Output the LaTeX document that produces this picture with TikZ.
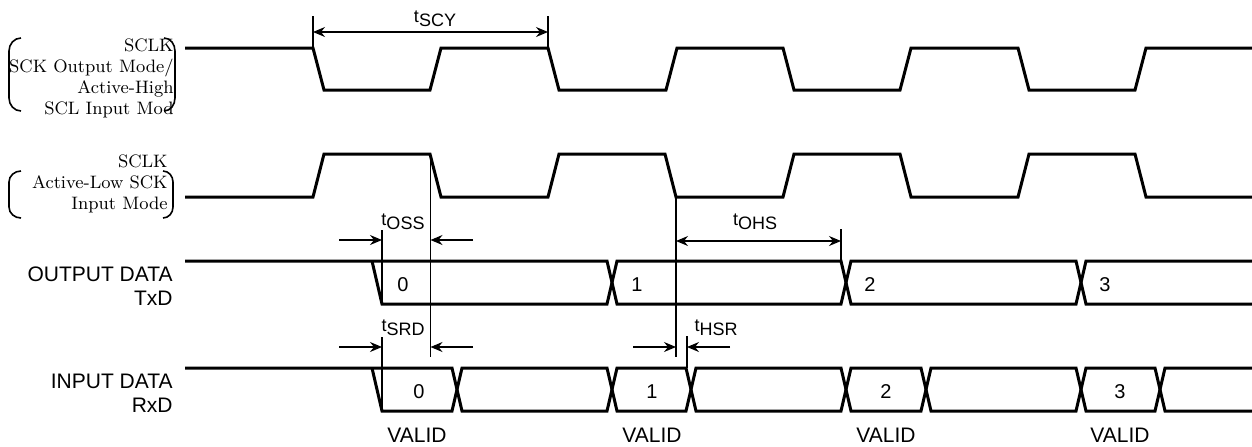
\documentclass[tikz,border=0pt]{standalone}
\usepackage{fontspec}
\setsansfont{Liberation Sans}
\usetikzlibrary{arrows.meta}
\newcommand{\tsym}[1]{t\raisebox{-2pt}{#1}}
\tikzset{
    %Define standard arrow tip
    >={Stealth[length=6pt,width=5pt,inset=2pt]},
    wave/.style={
      line width=1.5pt},
    dim/.style={
      line width=0.6pt},
    paren/.style={
      line width=0.8pt},
    sig/.style={
      align=right,
      anchor=east,
      inner sep=0pt,
      font=\sffamily\fontsize{10.5}{12}\selectfont},
    clk/.style={
      align=right,
      anchor=east,
      inner sep=0pt,
      font=\rmfamily\fontsize{9}{10.5}\selectfont},
    tlbl/.style={
      inner sep=0pt,
      font=\sffamily\fontsize{9}{10}\selectfont},
    val/.style={
      inner sep=0pt,
      font=\sffamily\fontsize{10}{12}\selectfont},
}
\begin{document}
\begin{tikzpicture}[x=0.5pt,y=-0.5pt]
    \useasboundingbox (0,0) rectangle (1252,446);
    % signal names
    \node (sclka) [clk] at (174,78.5)
          {SCLK\\SCK Output Mode/\\Active-High\\SCL Input Mod};
    \node (sclkb) [clk] at (168,184)
          {SCLK\\Active-Low SCK\\Input Mode};
    \node (txd) [sig] at (173,286)
          {OUTPUT DATA\\TxD};
    \node (rxd) [sig] at (173,393)
          {INPUT DATA\\RxD};
    \draw [paren] (21,38) to[out=180,in=90] (9,51) -- (9,98) to[out=-90,in=180] (21,111);
    \draw [paren] (164,38) to[out=0,in=90] (175,51) -- (175,98) to[out=-90,in=0] (164,111);
    \draw [paren] (21,171) to[out=180,in=90] (9,182) -- (9,207) to[out=-90,in=180] (21,218);
    \draw [paren] (163,171) to[out=0,in=90] (173,182) -- (173,207) to[out=-90,in=0] (163,218);
    % clocks
    \draw [wave] (185,48) -- (313,48) -- (324,90) -- (430,90) -- (441,48) -- (548,48)
          -- (559,90) -- (666,90) -- (677,48) -- (783,48) -- (794,90) -- (900,90)
          -- (911,48) -- (1018,48) -- (1029,90) -- (1135,90) -- (1146,48) -- (1252,48);
    \draw [wave] (185,197) -- (313,197) -- (324,154) -- (430,154) -- (441,197) -- (548,197)
          -- (559,154) -- (665,154) -- (676,197) -- (783,197) -- (794,154) -- (900,154)
          -- (911,197) -- (1018,197) -- (1029,154) -- (1135,154) -- (1146,197) -- (1252,197);
    % output data
    \draw [wave] (185,261) -- (607,261) -- (617,304) -- (841,304) -- (851,261)
          -- (1076,261) -- (1086,304) -- (1252,304);
    \draw [wave] (372,261) -- (382,304) -- (607,304) -- (617,261) -- (841,261)
          -- (851,304) -- (1076,304) -- (1086,261) -- (1252,261);
    % input data
    \draw [wave] (185,368) -- (452,368) -- (462,411) -- (607,411) -- (617,368)
          -- (686,368) -- (696,411) -- (841,411) -- (851,368) -- (921,368)
          -- (931,411) -- (1076,411) -- (1086,368) -- (1155,368) -- (1165,411) -- (1252,411);
    \draw [wave] (372,368) -- (382,411) -- (452,411) -- (462,368) -- (607,368)
          -- (617,411) -- (686,411) -- (696,368) -- (841,368) -- (851,411)
          -- (921,411) -- (931,368) -- (1076,368) -- (1086,411) -- (1155,411) -- (1165,368) -- (1252,368);
    % data values
    \node (o0) [val] at (403,285) {0};
    \node (o1) [val] at (637,285) {1};
    \node (o2) [val] at (870,285) {2};
    \node (o3) [val] at (1105,285) {3};
    \node (i0) [val] at (419,392) {0};
    \node (i1) [val] at (652,392) {1};
    \node (i2) [val] at (886,392) {2};
    \node (i3) [val] at (1120,392) {3};
    \node (v0) [val, font=\sffamily\fontsize{10.5}{12}\selectfont] at (417,435) {VALID};
    \node (v1) [val, font=\sffamily\fontsize{10.5}{12}\selectfont] at (652,435) {VALID};
    \node (v2) [val, font=\sffamily\fontsize{10.5}{12}\selectfont] at (886,435) {VALID};
    \node (v3) [val, font=\sffamily\fontsize{10.5}{12}\selectfont] at (1120,435) {VALID};
    % reference points
    \coordinate (fa) at (313,16);
    \coordinate (fb) at (548,16);
    \coordinate (ea) at (430.5,154);
    \coordinate (eb) at (676,197);
    \coordinate (da) at (382,230);
    \coordinate (db) at (841,229);
    \coordinate (ra) at (382,337);
    \coordinate (rb) at (687,336);
    % tSCY
    \draw [dim] (fa) -- (313,48);
    \draw [dim] (fb) -- (548,48);
    \draw [dim, <->] (313,32) -- (548,32);
    \node (tscy) [tlbl] at (435,19) {\tsym{SCY}};
    % edge lines
    \draw [dim] (ea) -- (430.5,357);
    \draw [dim] (eb) -- (676,357);
    % tOSS
    \draw [dim] (da) -- (382,304);
    \draw [dim, ->] (339,240) -- (da |- 0,240);
    \draw [dim, ->] (473,240) -- (ea |- 0,240);
    \node (toss) [tlbl] at (403,222) {\tsym{OSS}};
    % tSRD
    \draw [dim] (ra) -- (382,411);
    \draw [dim, ->] (339,347) -- (ra |- 0,347);
    \draw [dim, ->] (473,347) -- (ea |- 0,347);
    \node (tsrd) [tlbl] at (403,328) {\tsym{SRD}};
    % tOHS
    \draw [dim] (db) -- (841,261);
    \draw [dim, <->] (eb |- 0,241) -- (db |- 0,241);
    \node (tohs) [tlbl] at (755,222) {\tsym{OHS}};
    % tHSR
    \draw [dim] (rb) -- (687,368);
    \draw [dim, ->] (633,347) -- (eb |- 0,347);
    \draw [dim, ->] (730,347) -- (rb |- 0,347);
    \node (thsr) [tlbl] at (716,328) {\tsym{HSR}};
\end{tikzpicture}
\end{document}
